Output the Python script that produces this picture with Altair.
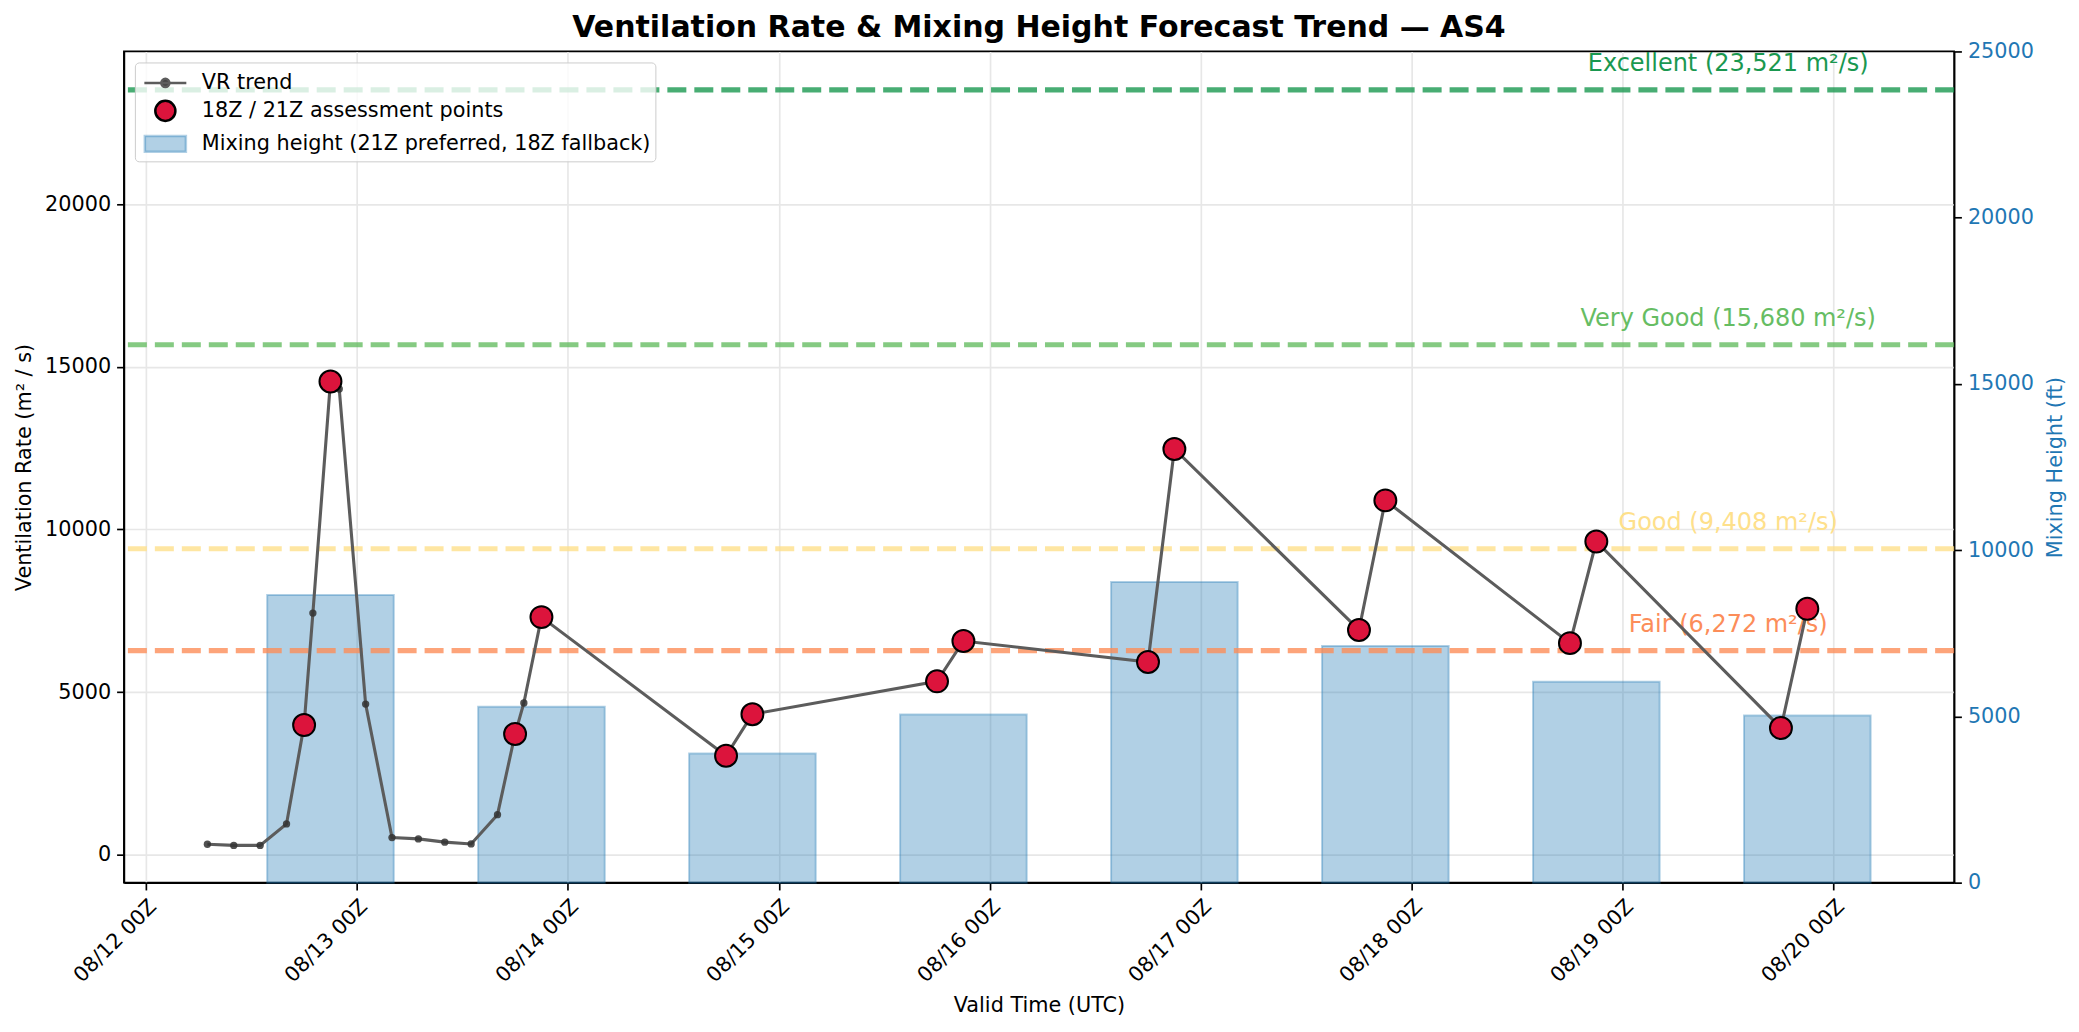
import altair as alt
import pandas as pd

FONT = "DejaVu Sans"

# Ventilation rate trend (m²/s), valid times UTC
vr_times = [
    "2025-08-12T07:00:00Z", "2025-08-12T10:00:00Z", "2025-08-12T13:00:00Z",
    "2025-08-12T16:00:00Z", "2025-08-12T18:00:00Z", "2025-08-12T19:00:00Z",
    "2025-08-12T21:00:00Z", "2025-08-12T22:00:00Z", "2025-08-13T01:00:00Z",
    "2025-08-13T04:00:00Z", "2025-08-13T07:00:00Z", "2025-08-13T10:00:00Z",
    "2025-08-13T13:00:00Z", "2025-08-13T16:00:00Z", "2025-08-13T18:00:00Z",
    "2025-08-13T19:00:00Z", "2025-08-13T21:00:00Z", "2025-08-14T18:00:00Z",
    "2025-08-14T21:00:00Z", "2025-08-15T18:00:00Z", "2025-08-15T21:00:00Z",
    "2025-08-16T18:00:00Z", "2025-08-16T21:00:00Z", "2025-08-17T18:00:00Z",
    "2025-08-17T21:00:00Z", "2025-08-18T18:00:00Z", "2025-08-18T21:00:00Z",
    "2025-08-19T18:00:00Z", "2025-08-19T21:00:00Z",
]
vr_values = [
    320, 285, 285, 945, 3985, 7430, 14550, 14320, 4630, 525, 485, 385, 330,
    1230, 3710, 4665, 7305, 3040, 4320, 5330, 6570, 5925, 12475, 6910, 10895,
    6505, 9630, 3895, 7560,
]
assess_hours = [18, 21]

# Mixing height (ft), one per day
mh_times = [
    "2025-08-12T21:00:00Z", "2025-08-13T21:00:00Z", "2025-08-14T21:00:00Z",
    "2025-08-15T21:00:00Z", "2025-08-16T21:00:00Z", "2025-08-17T21:00:00Z",
    "2025-08-18T21:00:00Z", "2025-08-19T21:00:00Z",
]
mh_values = [8650, 5290, 3885, 5055, 9045, 7115, 6045, 5025]

# VR category thresholds
levels = ["Excellent", "Very Good", "Good", "Fair"]
level_values = [23521, 15680, 9408, 6272]
level_colors = ["#1a9850", "#66bd63", "#fee08b", "#fc8d59"]

series = [
    "VR trend",
    "18Z / 21Z assessment points",
    "Mixing height (21Z preferred, 18Z fallback)",
]

vr = pd.DataFrame({"t": vr_times, "vr": vr_values})
pts = vr[pd.to_datetime(vr["t"]).dt.hour.isin(assess_hours)].assign(series=series[1])
mh = pd.DataFrame({"t": mh_times, "mh": mh_values})
lv = pd.DataFrame({
    "level": levels,
    "value": level_values,
    "label": [f"{n} ({v:,} m²/s)" for n, v in zip(levels, level_values)],
})


def utc(d, h=0, m=0):
    return alt.DateTime(year=2025, month=8, date=d, hours=h, minutes=m, utc=True)


x_scale = alt.Scale(type="utc", domain=[utc(11, 21, 30), utc(20, 13, 42)])
x_axis = alt.Axis(
    values=[utc(d) for d in range(12, 21)],
    labelExpr="utcFormat(datum.value, '%m/%d %HZ')",
    labelAngle=-45, labelAlign="right", labelBaseline="top",
    grid=True, title="Valid Time (UTC)",
)
y_left = alt.Scale(domain=[-860, 24700], nice=False, zero=False)
y_left_axis = alt.Axis(
    orient="left", values=[0, 5000, 10000, 15000, 20000], format="d",
    grid=True, title="Ventilation Rate (m² / s)",
)

legend = alt.Legend(
    title=None, orient="top-left", offset=11, padding=4,
    fillColor="rgba(255,255,255,0.8)", strokeColor="#cccccc", cornerRadius=4,
    symbolSize=900, symbolStrokeWidth=2.5, symbolOffset=10,
    labelOffset=20, labelLimit=0, rowPadding=1,
)
shape_paths = [
    "M-1.4,0H1.4M-0.27,0A0.27,0.27,0,1,0,0.27,0A0.27,0.27,0,1,0,-0.27,0Z",
    "M-0.67,0A0.67,0.67,0,1,0,0.67,0A0.67,0.67,0,1,0,-0.67,0Z",
    "M-1.37,-0.53H1.37V0.53H-1.37Z",
]
fill_scale = alt.Scale(domain=series, range=["#444444", "#dc143c", "rgba(31,119,180,0.35)"])
stroke_scale = alt.Scale(domain=series, range=["#5c5c5c", "#000000", "rgba(31,119,180,0.35)"])
shape_scale = alt.Scale(domain=series, range=shape_paths)

bars = (
    alt.Chart(mh)
    .transform_calculate(
        start="time(toDate(datum.t)) - 7.2 * 3600000",
        end="time(toDate(datum.t)) + 7.2 * 3600000",
    )
    .mark_bar(fill="rgba(31,119,180,0.35)", stroke="rgba(31,119,180,0.35)", strokeWidth=2)
    .encode(
        x=alt.X("start:T", scale=x_scale, axis=x_axis),
        x2="end:T",
        y=alt.Y(
            "mh:Q",
            scale=alt.Scale(domain=[0, 25000], nice=False),
            axis=alt.Axis(
                orient="right", values=[0, 5000, 10000, 15000, 20000, 25000],
                format="d", grid=False, title="Mixing Height (ft)",
                labelColor="#1f77b4", titleColor="#1f77b4",
                titleAngle=270, titleBaseline="top", titlePadding=12,
            ),
        ),
        y2=alt.datum(0),
    )
)

color = alt.Color("level:N", scale=alt.Scale(domain=levels, range=level_colors), legend=None)

rules = alt.Chart(lv).mark_rule(strokeDash=[19, 8], strokeWidth=5.2, opacity=0.8).encode(
    y=alt.Y("value:Q", scale=y_left, axis=y_left_axis),
    color=color,
)

labels = alt.Chart(lv).mark_text(
    font=FONT, fontSize=24, align="center", baseline="alphabetic", dy=-19
).encode(
    x=alt.XDatum(utc(19, 12), type="temporal", scale=x_scale, axis=x_axis),
    y=alt.Y("value:Q", scale=y_left, axis=y_left_axis),
    text="label:N",
    color=color,
)

line = alt.Chart(vr).mark_line(color="#5c5c5c", strokeWidth=3.1).encode(
    x=alt.X("t:T", scale=x_scale, axis=x_axis),
    y=alt.Y("vr:Q", scale=y_left, axis=y_left_axis),
)

dots = alt.Chart(vr).mark_circle(size=54, color="#333333", opacity=0.85).encode(
    x=alt.X("t:T", scale=x_scale, axis=x_axis),
    y=alt.Y("vr:Q", scale=y_left, axis=y_left_axis),
)

points = alt.Chart(pts).mark_point(filled=True, size=1076, strokeWidth=2, opacity=1).encode(
    x=alt.X("t:T", scale=x_scale, axis=x_axis),
    y=alt.Y("vr:Q", scale=y_left, axis=y_left_axis),
    fill=alt.Fill("series:N", scale=fill_scale, legend=legend),
    stroke=alt.Stroke("series:N", scale=stroke_scale, legend=legend),
    shape=alt.Shape("series:N", scale=shape_scale, legend=legend),
)

left = alt.layer(rules, labels, line, dots, points)

chart = (
    alt.layer(bars, left)
    .resolve_scale(y="independent")
    .properties(
        width=1832,
        height=832,
        title="Ventilation Rate & Mixing Height Forecast Trend — AS4",
    )
    .configure_view(stroke="#000000", strokeWidth=1.67)
    .configure_axis(
        labelFont=FONT, titleFont=FONT, labelFontSize=20.8, titleFontSize=20.8,
        titleFontWeight="normal", labelColor="#000000", titleColor="#000000",
        domainColor="#000000", domainWidth=1.67, tickColor="#000000",
        tickSize=7.3, tickWidth=1.67, labelPadding=6, titlePadding=10,
        gridColor="#e7e7e7", gridWidth=1.67,
    )
    .configure_legend(labelFont=FONT, labelFontSize=20.8, labelColor="#000000")
    .configure_title(font=FONT, fontSize=30, fontWeight="bold", anchor="middle", offset=-3)
)

chart.save("out.html", embed_options={"renderer": "svg", "actions": False})
